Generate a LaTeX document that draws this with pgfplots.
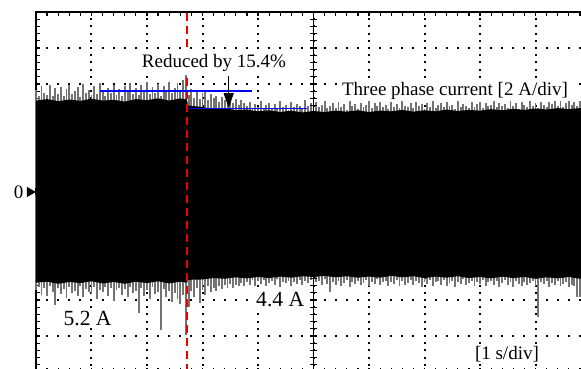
\documentclass[border=0pt]{standalone}
\usepackage{fontspec}
\setmainfont{Liberation Serif}
\usepackage{pgfplots}
\pgfplotsset{compat=1.18}
\usepackage{pgfplotstable}
\usetikzlibrary{arrows.meta}
\definecolor{markred}{RGB}{235,0,0}

% upper spike tips (divisions), x = -5 + 0.05*i
\pgfplotstableread[row sep=\\]{y\\
2.82\\2.66\\2.95\\2.74\\2.70\\2.98\\2.68\\2.88\\2.72\\2.93\\
2.67\\2.85\\2.97\\2.71\\2.80\\2.92\\2.65\\3.00\\2.76\\2.84\\
2.69\\2.95\\2.73\\3.02\\2.80\\2.68\\2.90\\2.75\\2.98\\2.70\\
2.86\\2.66\\2.94\\2.79\\3.03\\2.72\\2.88\\2.69\\2.97\\2.78\\
3.05\\2.71\\2.92\\2.75\\3.00\\2.68\\2.95\\2.82\\3.06\\2.74\\
2.90\\3.02\\2.78\\3.10\\3.25\\
2.70\\2.86\\2.62\\2.80\\2.58\\2.75\\2.83\\2.55\\2.72\\2.60\\
2.68\\2.50\\2.64\\2.56\\2.45\\2.62\\2.48\\2.58\\2.42\\2.55\\2.46\\
2.38\\2.50\\2.32\\2.44\\2.36\\2.52\\2.30\\2.41\\2.47\\2.34\\
2.45\\2.31\\2.53\\2.37\\2.42\\2.29\\2.50\\2.35\\2.44\\2.40\\
2.33\\2.55\\2.38\\2.46\\2.30\\2.49\\2.36\\2.43\\2.52\\2.32\\
2.40\\2.47\\2.34\\2.51\\2.37\\2.44\\2.29\\2.53\\2.39\\2.45\\
2.31\\2.48\\2.36\\2.42\\2.54\\2.33\\2.46\\2.38\\2.50\\2.35\\
2.43\\2.30\\2.49\\2.37\\2.45\\2.32\\2.52\\2.40\\2.36\\2.47\\
2.34\\2.51\\2.39\\2.44\\2.31\\2.48\\2.37\\2.55\\2.33\\2.42\\
2.46\\2.35\\2.50\\2.38\\2.43\\2.30\\2.53\\2.36\\2.45\\2.40\\
2.32\\2.49\\2.37\\2.44\\2.51\\2.34\\2.47\\2.39\\2.42\\2.56\\
2.35\\2.48\\2.40\\2.45\\2.33\\2.52\\2.38\\2.46\\2.31\\2.50\\
2.41\\2.36\\2.54\\2.39\\2.47\\2.34\\2.51\\2.43\\2.37\\2.49\\
2.45\\2.58\\2.40\\2.52\\2.36\\2.48\\2.55\\2.42\\2.50\\2.38\\2.53\\2.46\\
}\uppertips

% lower spike tips
\pgfplotstableread[row sep=\\]{y\\
-2.72\\-2.64\\-2.85\\-2.68\\-2.90\\-2.62\\-2.78\\-3.14\\-2.66\\-2.82\\
-2.70\\-2.95\\-2.63\\-2.80\\-2.74\\-2.88\\-2.61\\-2.92\\-2.69\\-2.77\\
-2.84\\-2.65\\-2.96\\-2.71\\-2.79\\-2.63\\-2.90\\-2.68\\-3.02\\-2.73\\
-2.66\\-2.86\\-2.70\\-2.93\\-2.64\\-2.81\\-2.75\\-3.36\\-2.67\\-2.89\\
-2.72\\-2.98\\-2.65\\-2.84\\-2.77\\-3.83\\-2.69\\-2.91\\-2.74\\-3.05\\
-2.80\\-2.96\\-3.10\\-2.86\\-3.97\\
-3.20\\-2.75\\-2.92\\-2.68\\-3.08\\-2.72\\-2.85\\-2.62\\-2.78\\-2.66\\
-2.74\\-2.60\\-2.70\\-2.58\\-2.66\\-2.55\\-2.68\\-2.57\\-2.62\\-2.52\\-2.60\\
-2.50\\-2.58\\-2.45\\-2.62\\-2.48\\-2.55\\-2.44\\-2.60\\-2.52\\-2.47\\
-2.57\\-2.43\\-2.63\\-2.49\\-2.54\\-2.46\\-2.61\\-2.50\\-2.56\\-2.44\\
-2.59\\-2.48\\-2.53\\-2.45\\-2.62\\-2.51\\-2.47\\-2.58\\-2.43\\-2.55\\
-2.78\\-2.49\\-2.57\\-2.46\\-2.60\\-2.52\\-2.44\\-2.63\\-2.50\\-2.55\\
-2.47\\-2.59\\-2.53\\-2.45\\-2.61\\-2.49\\-2.56\\-2.43\\-2.58\\-2.51\\
-2.46\\-2.62\\-2.50\\-2.55\\-2.44\\-2.60\\-2.48\\-2.57\\-2.52\\-2.45\\
-2.59\\-2.47\\-2.54\\-2.63\\-2.49\\-2.56\\-2.44\\-2.61\\-2.51\\-2.48\\
-2.57\\-2.45\\-2.60\\-2.52\\-2.47\\-2.64\\-2.50\\-2.55\\-2.43\\-2.58\\
-2.53\\-2.46\\-2.61\\-2.49\\-2.56\\-2.44\\-2.62\\-2.51\\-2.47\\-2.59\\
-2.48\\-2.63\\-2.52\\-2.45\\-2.57\\-2.50\\-2.65\\-2.46\\-2.55\\-2.60\\
-2.49\\-2.58\\-2.53\\-2.47\\-2.62\\-3.47\\-2.51\\-2.56\\-2.48\\-2.64\\
-2.52\\-2.59\\-2.46\\-2.61\\-2.55\\-2.50\\-2.63\\-2.57\\-2.60\\-2.92\\-2.92\\-2.58\\
}\lowertips

\begin{document}
\fontsize{9.5}{11.4}\selectfont
\begin{tikzpicture}
\begin{axis}[
  scale only axis, width=277.5pt, height=180pt,
  xmin=-5, xmax=5, ymin=-5, ymax=5,
  clip=false,
  xtick={-5,...,5}, ytick={-5,...,5},
  xticklabels={}, yticklabels={},
  minor x tick num=4, minor y tick num=4,
  tick align=inside,
  major tick length=1.8pt, minor tick length=1.8pt,
  tick style={line width=0.6pt, black},
  axis line style={line width=0.65pt},
  grid=major,
  x grid style={line width=1pt, black, dash pattern=on 1pt off 2.6pt, dash phase=0.5pt},
  y grid style={line width=1pt, black, dash pattern=on 1pt off 4.55pt, dash phase=0.5pt},
]
% grey spikes
\addplot[ycomb, mark=none, draw=black!55, line width=0.95pt]
  table[x expr=\coordindex*0.05-5, y=y] {\uppertips};
\addplot[ycomb, mark=none, draw=black!55, line width=0.95pt]
  table[x expr=\coordindex*0.05-5, y=y] {\lowertips};
% dense core of the signal
\addplot[fill=black, draw=none] coordinates {
  (-5,2.54) (-4.8,2.58) (-4.6,2.52) (-4.4,2.57) (-4.2,2.53) (-4.0,2.59) (-3.8,2.54)
  (-3.6,2.56) (-3.4,2.51) (-3.2,2.58) (-3.0,2.55) (-2.8,2.60) (-2.6,2.54) (-2.4,2.60)
  (-2.28,2.57) (-2.26,2.40) (-2.0,2.36) (-1.8,2.30) (-1.6,2.33) (-1.4,2.27) (-1.2,2.29)
  (-1.0,2.24) (-0.8,2.27) (-0.6,2.22) (-0.4,2.26) (-0.2,2.21) (0,2.25) (0.2,2.22)
  (0.4,2.26) (0.6,2.23) (0.8,2.27) (1.0,2.22) (1.2,2.26) (1.4,2.24) (1.6,2.28)
  (1.8,2.23) (2.0,2.27) (2.2,2.24) (2.4,2.29) (2.6,2.25) (2.8,2.28) (3.0,2.26)
  (3.2,2.30) (3.4,2.27) (3.6,2.31) (3.8,2.28) (4.0,2.32) (4.2,2.29) (4.4,2.33)
  (4.6,2.30) (4.8,2.33) (4.9,2.31)
  (4.9,-2.38) (4.8,-2.41) (4.6,-2.36) (4.4,-2.40) (4.2,-2.37) (4.0,-2.41) (3.8,-2.36)
  (3.6,-2.39) (3.4,-2.35) (3.2,-2.40) (3.0,-2.36) (2.8,-2.39) (2.6,-2.34) (2.4,-2.38)
  (2.2,-2.35) (2.0,-2.39) (1.8,-2.34) (1.6,-2.37) (1.4,-2.33) (1.2,-2.38) (1.0,-2.35)
  (0.8,-2.38) (0.6,-2.34) (0.4,-2.37) (0.2,-2.33) (0,-2.36) (-0.2,-2.34) (-0.4,-2.38)
  (-0.6,-2.35) (-0.8,-2.39) (-1.0,-2.36) (-1.2,-2.40) (-1.4,-2.37) (-1.6,-2.41)
  (-1.8,-2.39) (-2.0,-2.43) (-2.26,-2.44) (-2.28,-2.52) (-2.4,-2.49) (-2.6,-2.54)
  (-2.8,-2.48) (-3.0,-2.53) (-3.2,-2.49) (-3.4,-2.55) (-3.6,-2.50) (-3.8,-2.54)
  (-4.0,-2.48) (-4.2,-2.53) (-4.4,-2.50) (-4.6,-2.55) (-4.8,-2.49) (-5,-2.52)
} -- cycle;
% red dashed marker line
\addplot[draw=markred, line width=0.8pt, dash pattern=on 4pt off 2.5pt] coordinates {(-2.274,-5) (-2.274,5)};
% blue level lines
\addplot[blue, line width=0.85pt] coordinates {(-3.847,2.81) (-1.108,2.81)};
\addplot[blue, line width=0.85pt] coordinates {(-2.279,2.32) (-0.117,2.32)};
% arrow
\addplot[black, line width=0.5pt, -{Triangle[length=7.5pt,width=5pt]}] coordinates {(-1.528,3.22) (-1.528,2.33)};
% zero marker
\addplot[only marks, mark=triangle*, mark size=2.6pt, mark options={rotate=-90, fill=black, draw=black}] coordinates {(-5.112,0)};
\node at (axis cs:-5.315,0) {0};
% labels
\node[fill=white, inner sep=1pt] at (axis cs:-1.793,3.58) {Reduced by 15.4\%};
\node[fill=white, inner sep=1pt] at (axis cs:2.55,2.81) {Three phase current [2 A/div]};
\node[fill=white, inner sep=1pt, font=\fontsize{10.8}{12}\selectfont] at (axis cs:-4.07,-3.52) {5.2 A};
\node[fill=white, inner sep=1pt, font=\fontsize{10.8}{12}\selectfont] at (axis cs:-0.6,-3.0) {4.4 A};
\node[fill=white, inner sep=1pt] at (axis cs:3.486,-4.5) {[1 s/div]};
\coordinate (bl) at (axis cs:-5.6486,-4.9167);
\coordinate (tr) at (axis cs:4.8198,5.3333);
\end{axis}
% centre cross with ticks
\begin{axis}[
  scale only axis, width=277.5pt, height=180pt,
  xmin=-5, xmax=5, ymin=-5, ymax=5,
  axis lines=center,
  axis line style={-, line width=0.65pt, black},
  xtick={-5,...,5}, ytick={-5,...,5},
  xticklabels={}, yticklabels={},
  minor x tick num=4, minor y tick num=4,
  tick align=center,
  major tick length=3.5pt, minor tick length=3.5pt,
  tick style={line width=0.6pt, black},
]
\end{axis}
\pgfresetboundingbox
\useasboundingbox (bl) rectangle (tr);
\end{tikzpicture}
\end{document}
